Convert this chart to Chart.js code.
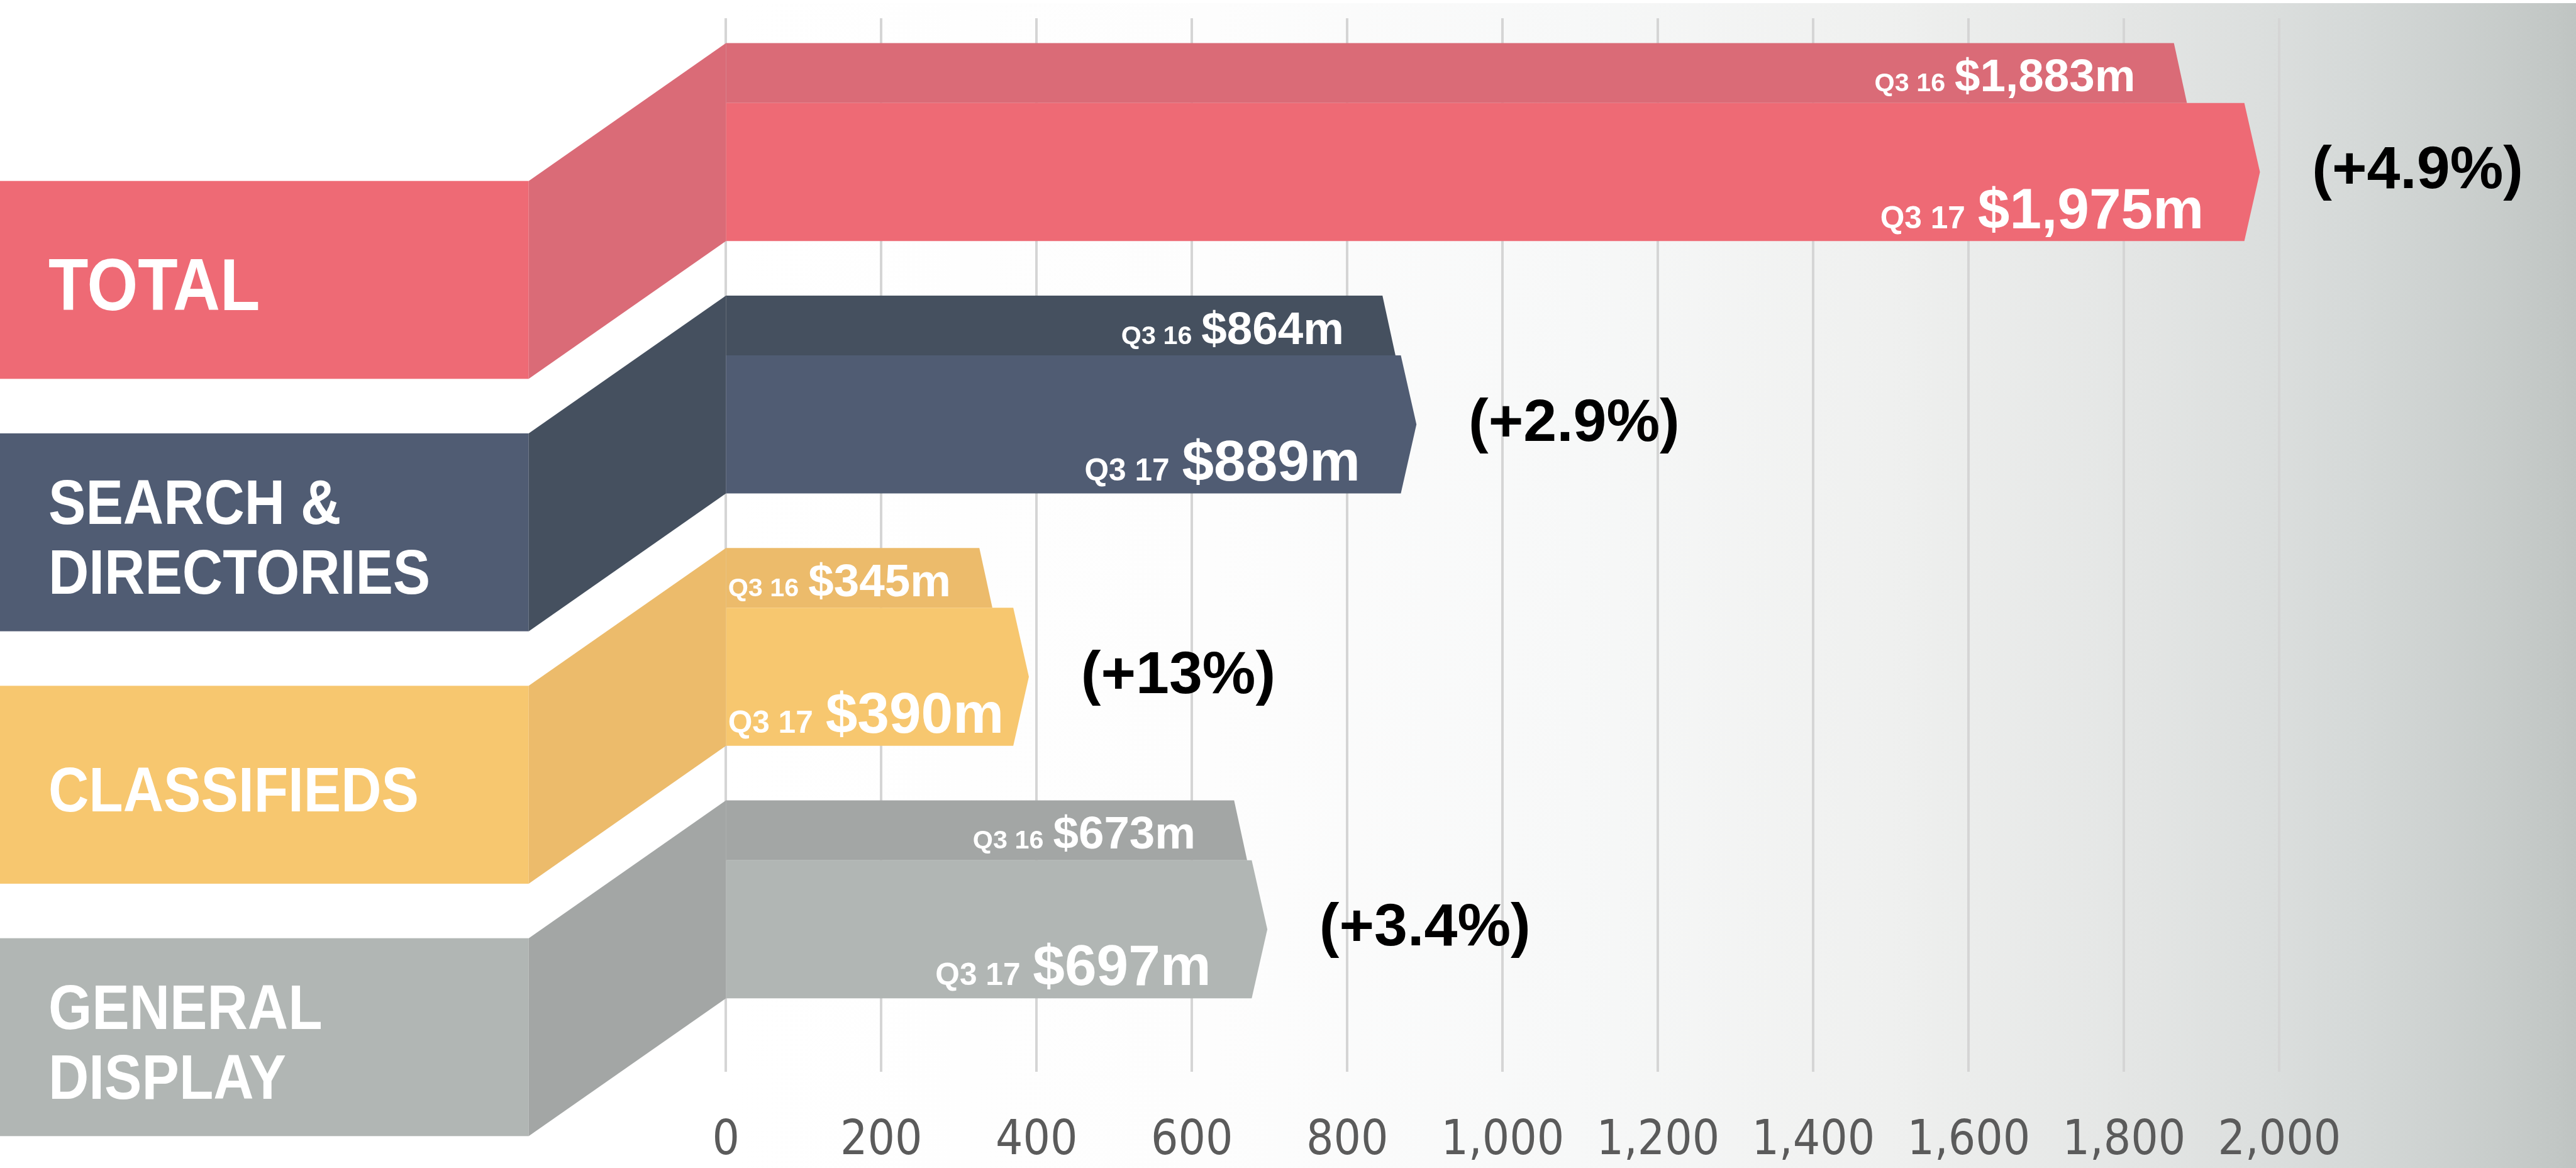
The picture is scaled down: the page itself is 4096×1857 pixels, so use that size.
<!DOCTYPE html>
<html>
<head>
<meta charset="utf-8">
<script src="https://cdn.jsdelivr.net/npm/chart.js@4.4.1/dist/chart.umd.min.js"></script>
<style>
  html, body { margin: 0; padding: 0; background: #fff; overflow: hidden; }
  canvas { display: block; }
</style>
</head>
<body>
<canvas id="chart" width="4096" height="1857"></canvas>
<script>
// Chart values
const categories = [['TOTAL'], ['SEARCH &', 'DIRECTORIES'], ['CLASSIFIEDS'], ['GENERAL', 'DISPLAY']];
const periodLabels = ['Q3 16', 'Q3 17'];
const q316 = [1883, 864, 345, 673];
const q317 = [1975, 889, 390, 697];
const q316Labels = ['$1,883m', '$864m', '$345m', '$673m'];
const q317Labels = ['$1,975m', '$889m', '$390m', '$697m'];
const changeLabels = ['(+4.9%)', '(+2.9%)', '(+13%)', '(+3.4%)'];
const xTicks = [0, 200, 400, 600, 800, 1000, 1200, 1400, 1600, 1800, 2000];

// Colours: darker shade for Q3 16 / connector, main shade for Q3 17 / label box
const darkColors = ['#da6b77', '#45505f', '#ecbb6b', '#a3a6a5'];
const mainColors = ['#ee6a75', '#505c73', '#f7c76f', '#b1b6b4'];
const labelSizes = [141, 121, 121, 121]; // category label font size, reference px

const W = 4096, H = 1857;
const S = W / 4950; // reference -> window scale
const BOLD = '"Liberation Sans", Arial, sans-serif';

function poly(ctx, pts, color) {
    ctx.beginPath();
    ctx.moveTo(pts[0][0], pts[0][1]);
    for (let k = 1; k < pts.length; k++) ctx.lineTo(pts[k][0], pts[k][1]);
    ctx.closePath();
    ctx.fillStyle = color;
    ctx.fill();
}

// Draw "Q3 16 $1,883m" style label, right aligned
function valueLabel(ctx, x0, small, big, right, baseline, smallSize, bigSize, gap) {
    ctx.font = `bold ${bigSize}px ${BOLD}`;
    const bw = ctx.measureText(big).width;
    ctx.font = `bold ${smallSize}px ${BOLD}`;
    const sw = ctx.measureText(small).width;
    right = Math.max(right, x0 + 4 * S + sw + gap + bw);
    ctx.fillStyle = '#fff';
    ctx.textAlign = 'right';
    ctx.textBaseline = 'alphabetic';
    ctx.fillText(small, right - bw - gap, baseline);
    ctx.font = `bold ${bigSize}px ${BOLD}`;
    ctx.fillText(big, right, baseline);
}

const shapesPlugin = {
    id: 'shapes',
    beforeDraw(chart) {
        const { ctx } = chart;
        const x0 = chart.scales.x.getPixelForValue(0);
        ctx.save();
        ctx.fillStyle = '#fff';
        ctx.fillRect(0, 0, W, H);
        const g = ctx.createLinearGradient(x0, 0, W, 0);
        g.addColorStop(0, '#ffffff');
        g.addColorStop(0.263, '#fdfdfd');
        g.addColorStop(0.46, '#f7f8f8');
        g.addColorStop(0.629, '#eff0ef');
        g.addColorStop(0.769, '#e3e5e4');
        g.addColorStop(0.882, '#d5d9d8');
        g.addColorStop(0.989, '#c2c7c5');
        g.addColorStop(1, '#bfc4c2');
        ctx.fillStyle = g;
        ctx.fillRect(x0, 6 * S, W - x0, H);
        ctx.restore();
    },
    afterDatasetsDraw(chart) {
        const { ctx } = chart;
        const xs = chart.scales.x, ys = chart.scales.y;
        const x0 = xs.getPixelForValue(0);
        const unit = ys.getPixelForValue(1) - ys.getPixelForValue(0);
        const boxRight = 1016 * S;
        ctx.save();
        categories.forEach((cat, i) => {
            const yc = ys.getPixelForValue(i);
            const top = yc - 0.392 * unit;
            const bottom = yc + 0.392 * unit;
            const split = top + 0.237 * unit;
            const drop = 0.546 * unit;

            // label box + connector
            ctx.fillStyle = mainColors[i];
            ctx.fillRect(0, top + drop, boxRight, bottom - top);
            poly(ctx, [[boxRight, top + drop], [x0, top], [x0, bottom], [boxRight, bottom + drop]], darkColors[i]);

            // Q3 16 band
            const x16 = xs.getPixelForValue(q316[i]);
            poly(ctx, [[x0, top], [x16 - 28 * S, top], [x16 - 3 * S, split], [x0, split]], darkColors[i]);

            // Q3 17 arrow
            const x17 = xs.getPixelForValue(q317[i]);
            const mid = (split + bottom) / 2;
            poly(ctx, [[x0, split], [x17 - 30 * S, split], [x17, mid], [x17 - 30 * S, bottom], [x0, bottom]], mainColors[i]);

            // value labels
            valueLabel(ctx, x0, periodLabels[0], q316Labels[i], x16 - 102 * S, split - 22 * S, 50 * S, 88 * S, 18 * S);
            valueLabel(ctx, x0, periodLabels[1], q317Labels[i], x17 - 108 * S, bottom - 25 * S, 60 * S, 110 * S, 24 * S);

            // change label
            const pSize = 115 * S;
            ctx.font = `bold ${pSize}px ${BOLD}`;
            ctx.fillStyle = '#000';
            ctx.textAlign = 'left';
            ctx.fillText(changeLabels[i], x17 + 100 * S, mid - 10 * S + 0.716 * pSize / 2);

            // category label
            const size = labelSizes[i] * S;
            const lineGap = 134 * S;
            const centre = yc + drop + 8 * S;
            ctx.font = `bold ${size}px ${BOLD}`;
            ctx.fillStyle = '#fff';
            cat.forEach((line, k) => {
                const m = centre + (k - (cat.length - 1) / 2) * lineGap;
                ctx.save();
                ctx.translate(93 * S, m + 0.716 * size / 2);
                ctx.scale(0.89, 1);
                ctx.fillText(line, 0, 0);
                ctx.restore();
            });
        });
        ctx.restore();
    }
};

const ctx = document.getElementById('chart').getContext('2d');

new Chart(ctx, {
    type: 'bar',
    data: {
        datasets: [
            { label: periodLabels[0], data: q316.map((v, i) => ({ x: v, y: i })), backgroundColor: 'rgba(0,0,0,0)' },
            { label: periodLabels[1], data: q317.map((v, i) => ({ x: v, y: i })), backgroundColor: 'rgba(0,0,0,0)' }
        ]
    },
    options: {
        indexAxis: 'y',
        responsive: false,
        devicePixelRatio: 1,
        animation: false,
        events: [],
        layout: { padding: { left: 1395 * S, right: W - 4380 * S, top: 35 * S, bottom: 0 } },
        plugins: { legend: { display: false }, tooltip: { enabled: false } },
        scales: {
            x: {
                type: 'linear',
                position: 'bottom',
                min: 0,
                max: 2000,
                afterBuildTicks: s => { s.ticks = xTicks.map(v => ({ value: v })); },
                afterFit: s => { s.height = H - 2059 * S; },
                grid: { color: '#d5d5d5', lineWidth: 4, drawTicks: false },
                border: { display: false },
                ticks: {
                    padding: 66,
                    color: '#5b5b5b',
                    maxRotation: 0,
                    autoSkip: false,
                    font: { family: '"Liberation Sans Narrow", "DejaVu Sans Condensed", sans-serif', size: 76, lineHeight: 1.2 },
                    callback: v => v.toLocaleString('en-US')
                }
            },
            y: {
                type: 'linear',
                reverse: true,
                offset: false,
                min: -0.4907,
                max: 3.6825,
                display: false
            }
        }
    },
    plugins: [shapesPlugin]
});
</script>
</body>
</html>
